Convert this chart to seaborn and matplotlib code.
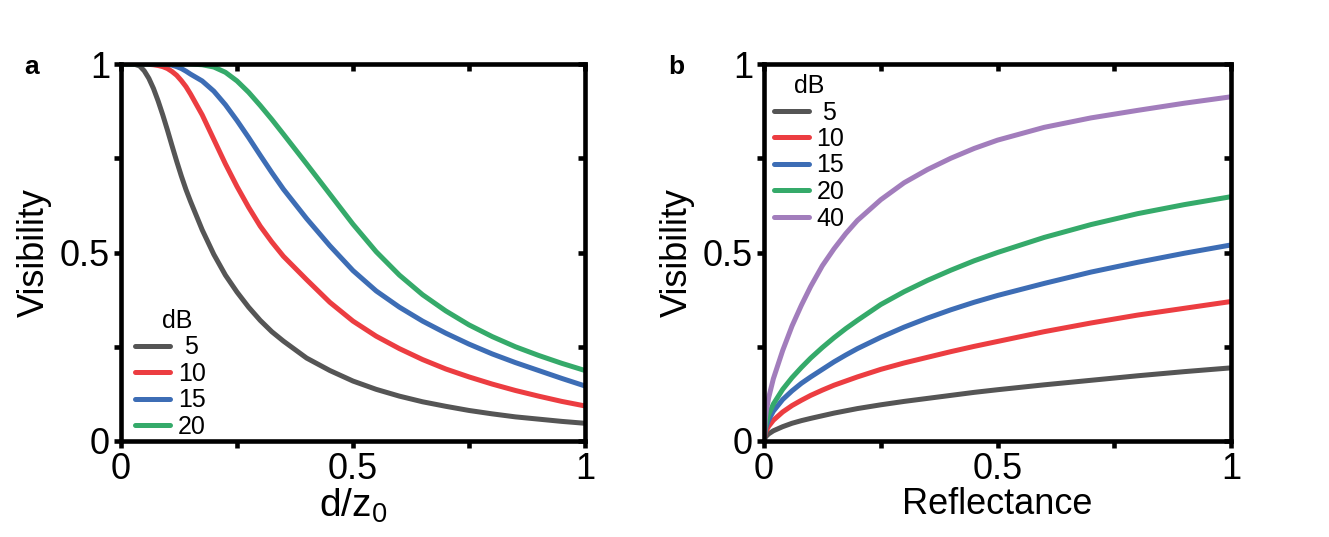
import numpy as np
import pandas as pd
import matplotlib
matplotlib.use("Agg")
import matplotlib.pyplot as plt
import seaborn as sns

# panel a: visibility vs d/z0
dz = [0, 0.02, 0.03, 0.04, 0.05, 0.06, 0.07, 0.08, 0.09, 0.1, 0.11, 0.12, 0.13,
      0.14, 0.15, 0.175, 0.2, 0.225, 0.25, 0.275, 0.3, 0.325, 0.35, 0.4, 0.45,
      0.5, 0.55, 0.6, 0.65, 0.7, 0.75, 0.8, 0.85, 0.9, 0.95, 1.0]
vis_a_5 = [1.0, 1.0, 0.999, 0.995, 0.982, 0.962, 0.935, 0.902, 0.865, 0.825, 0.783,
           0.742, 0.703, 0.667, 0.635, 0.56, 0.495, 0.44, 0.395, 0.355, 0.32, 0.29,
           0.265, 0.22, 0.187, 0.159, 0.137, 0.119, 0.104, 0.092, 0.081, 0.072,
           0.064, 0.058, 0.052, 0.047]
vis_a_10 = [1.0, 1.0, 1.0, 1.0, 1.0, 0.999, 0.998, 0.996, 0.993, 0.988, 0.98, 0.97,
            0.956, 0.94, 0.92, 0.865, 0.80, 0.735, 0.675, 0.62, 0.57, 0.528, 0.49,
            0.428, 0.368, 0.318, 0.278, 0.245, 0.216, 0.191, 0.17, 0.151, 0.134,
            0.119, 0.105, 0.093]
vis_a_15 = [1.0, 1.0, 1.0, 1.0, 1.0, 1.0, 1.0, 1.0, 1.0, 0.999, 0.997, 0.993, 0.988,
            0.981, 0.973, 0.955, 0.928, 0.892, 0.85, 0.805, 0.758, 0.712, 0.668,
            0.59, 0.518, 0.452, 0.398, 0.355, 0.318, 0.286, 0.257, 0.231, 0.208,
            0.187, 0.166, 0.146]
vis_a_20 = [1.0, 1.0, 1.0, 1.0, 1.0, 1.0, 1.0, 1.0, 1.0, 1.0, 1.0, 1.0, 1.0, 1.0,
            1.0, 0.998, 0.992, 0.978, 0.955, 0.925, 0.89, 0.853, 0.814, 0.735,
            0.655, 0.575, 0.502, 0.44, 0.388, 0.345, 0.308, 0.277, 0.25, 0.227,
            0.206, 0.187]

# panel b: visibility vs reflectance
refl = [0, 0.0025, 0.005, 0.01, 0.02, 0.04, 0.06, 0.08, 0.1, 0.125, 0.15, 0.175,
        0.2, 0.25, 0.3, 0.35, 0.4, 0.45, 0.5, 0.6, 0.7, 0.8, 0.9, 1.0]
vis_b_5 = [0, 0.009, 0.013, 0.019, 0.027, 0.038, 0.047, 0.054, 0.06, 0.067, 0.074,
           0.08, 0.086, 0.096, 0.105, 0.113, 0.121, 0.129, 0.136, 0.149, 0.161,
           0.173, 0.184, 0.194]
vis_b_10 = [0, 0.02, 0.028, 0.039, 0.055, 0.077, 0.094, 0.108, 0.121, 0.135, 0.148,
            0.159, 0.17, 0.19, 0.207, 0.222, 0.237, 0.251, 0.264, 0.29, 0.313,
            0.334, 0.352, 0.37]
vis_b_15 = [0, 0.028, 0.04, 0.056, 0.079, 0.11, 0.133, 0.153, 0.17, 0.19, 0.21,
            0.228, 0.245, 0.275, 0.302, 0.326, 0.348, 0.368, 0.386, 0.418, 0.448,
            0.474, 0.498, 0.52]
vis_b_20 = [0, 0.035, 0.05, 0.07, 0.098, 0.137, 0.168, 0.195, 0.22, 0.248, 0.274,
            0.298, 0.32, 0.362, 0.396, 0.426, 0.453, 0.478, 0.50, 0.54, 0.574,
            0.603, 0.627, 0.648]
vis_b_40 = [0, 0.055, 0.08, 0.115, 0.165, 0.24, 0.305, 0.36, 0.41, 0.465, 0.51,
            0.55, 0.585, 0.64, 0.685, 0.72, 0.75, 0.776, 0.798, 0.832, 0.857,
            0.877, 0.896, 0.913]

labels_a = [" 5", "10", "15", "20"]
labels_b = [" 5", "10", "15", "20", "40"]
colors = ["#555555", "#EC3D41", "#3D6DB5", "#35AA6A", "#A27DBC"]
ticks = [0, 0.25, 0.5, 0.75, 1]
tick_text = ["0", "", "0.5", "", "1"]

df_a = pd.concat([pd.DataFrame({"x": dz, "v": v, "dB": lab})
                  for v, lab in zip([vis_a_5, vis_a_10, vis_a_15, vis_a_20], labels_a)])
df_b = pd.concat([pd.DataFrame({"x": refl, "v": v, "dB": lab})
                  for v, lab in zip([vis_b_5, vis_b_10, vis_b_15, vis_b_20, vis_b_40], labels_b)])

sns.set_theme(style="ticks")
plt.rcParams["font.family"] = ["Liberation Sans", "DejaVu Sans"]
plt.rcParams["mathtext.fontset"] = "custom"
plt.rcParams["mathtext.rm"] = "Liberation Sans"
for key in ["text.color", "axes.labelcolor", "xtick.color", "ytick.color", "axes.edgecolor"]:
    plt.rcParams[key] = "black"

fig = plt.figure(figsize=(13.29, 5.37), dpi=100)
ax_a = fig.add_axes([121 / 1329, 96 / 537, 464 / 1329, 377 / 537])
ax_b = fig.add_axes([764 / 1329, 96 / 537, 467 / 1329, 377 / 537])

lw = 3.6
sns.lineplot(data=df_a, x="x", y="v", hue="dB", hue_order=labels_a,
             palette=colors[:4], linewidth=lw, sort=False, ax=ax_a)
sns.lineplot(data=df_b, x="x", y="v", hue="dB", hue_order=labels_b,
             palette=colors, linewidth=lw, sort=False, ax=ax_b)

for ax, xlabel, xsize in [(ax_a, "d/z$_0$", 28), (ax_b, "Reflectance", 26)]:
    ax.set_xlim(0, 1)
    ax.set_ylim(0, 1)
    ax.set_xticks(ticks)
    ax.set_yticks(ticks)
    ax.set_xticklabels(tick_text, fontsize=26)
    ax.set_yticklabels(tick_text, fontsize=26)
    for sp in ax.spines.values():
        sp.set_visible(True)
        sp.set_linewidth(3.3)
    ax.tick_params(axis="both", direction="out", length=5, width=3.3, pad=3)
    # inward ticks on top and right
    top = ax.secondary_xaxis("top")
    top.set_xticks(ticks)
    top.set_xticklabels([])
    top.tick_params(direction="in", length=5, width=3.3)
    right = ax.secondary_yaxis("right")
    right.set_yticks(ticks)
    right.set_yticklabels([])
    right.tick_params(direction="in", length=5, width=3.3)
    for sp in list(top.spines.values()) + list(right.spines.values()):
        sp.set_visible(False)
    ax.set_xlabel(xlabel, fontsize=xsize, labelpad=0)
    ax.set_ylabel("Visibility", fontsize=26, labelpad=6)

leg_kw = dict(frameon=False, fontsize=18, title_fontsize=18,
              handlelength=1.4, handletextpad=0.3, labelspacing=0.1,
              borderaxespad=0, borderpad=0.4)
sns.move_legend(ax_a, "lower left", bbox_to_anchor=(0.009, -0.021), title="  dB", **leg_kw)
sns.move_legend(ax_b, "upper left", bbox_to_anchor=(0.0, 1.0), title="dB", **leg_kw)
for ax in (ax_a, ax_b):
    for h in ax.get_legend().get_lines():
        h.set_linewidth(lw)
        h.set_solid_capstyle("round")

fig.text(24 / 1329, 1 - 67 / 537, "a", fontsize=19, fontweight="bold", va="center")
fig.text(668 / 1329, 1 - 67 / 537, "b", fontsize=19, fontweight="bold", va="center")

fig.savefig("out.png", dpi=100, facecolor="white")
